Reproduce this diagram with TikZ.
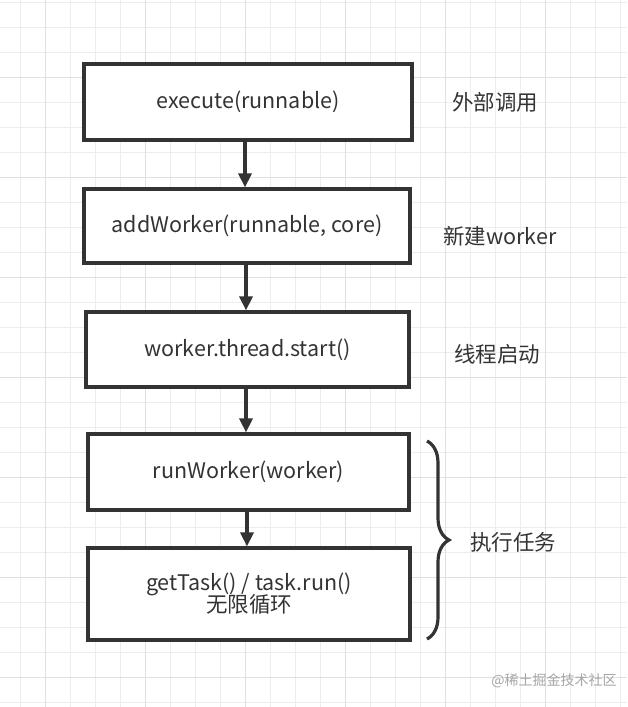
\documentclass[tikz,border=0pt]{standalone}
\usepackage{fontspec}
\setmainfont{Noto Sans CJK SC}
\usetikzlibrary{arrows.meta,decorations.pathreplacing}
\begin{document}
\begin{tikzpicture}[x=1pt,y=-1pt,
  box/.style={draw=black!80,line width=3.2pt,fill=white,text=black!80,font=\fontsize{21.5}{26}\selectfont,align=center,inner sep=0pt},
  arr/.style={draw=black!80,line width=3.2pt,-{Triangle[length=14pt,width=13pt]}},
  lab/.style={text=black!80,font=\fontsize{21.5}{26}\selectfont,anchor=center}]
\useasboundingbox (0,0) rectangle (627,707);
\fill[white] (0,0) rectangle (627,707);
\foreach \x in {20,45,...,620} \draw[black!7,line width=0.8pt] (\x,0) -- (\x,707);
\foreach \y in {2,27,...,707} \draw[black!7,line width=0.8pt] (0,\y) -- (627,\y);
\foreach \x in {45,145,...,620} \draw[black!12,line width=0.8pt] (\x,0) -- (\x,707);
\foreach \y in {77,177,...,707} \draw[black!12,line width=0.8pt] (0,\y) -- (627,\y);
\node[box,minimum width=328,minimum height=76] (b1) at (248,102) {execute(runnable)};
\node[box,minimum width=326,minimum height=74] (b2) at (247,226) {addWorker(runnable, core)};
\node[box,minimum width=323,minimum height=75] (b3) at (247.5,349.5) {worker.thread.start()};
\node[box,minimum width=321,minimum height=76] (b4) at (248.5,472) {runWorker(worker)};
\node[box,minimum width=322,minimum height=92] (b5) at (249,594) {getTask() / task.run()\\[-4pt]无限循环};
\draw[arr] (b1.south -| 245,0) -- (b2.north -| 245,0);
\draw[arr] (b2.south -| 246,0) -- (b3.north -| 246,0);
\draw[arr] (b3.south -| 246,0) -- (b4.north -| 246,0);
\draw[arr] (b4.south -| 247,0) -- (b5.north -| 247,0);
\node[lab] (l1) at (495,102) {外部调用};
\node[lab] (l2) at (500,236) {新建worker};
\node[lab] (l3) at (497,354) {线程启动};
\coordinate (bt) at (427,441);
\coordinate (bb) at (427,639);
\draw[black!80,line width=3.2pt,decorate,decoration={brace,amplitude=22pt,aspect=0.5}] (bt) -- (bb);
\node[lab] (l4) at (513,542) {执行任务};
\node[text=black!35,font=\fontsize{14}{16}\selectfont] (wm) at (554,681) {@稀土掘金技术社区};
\end{tikzpicture}
\end{document}
